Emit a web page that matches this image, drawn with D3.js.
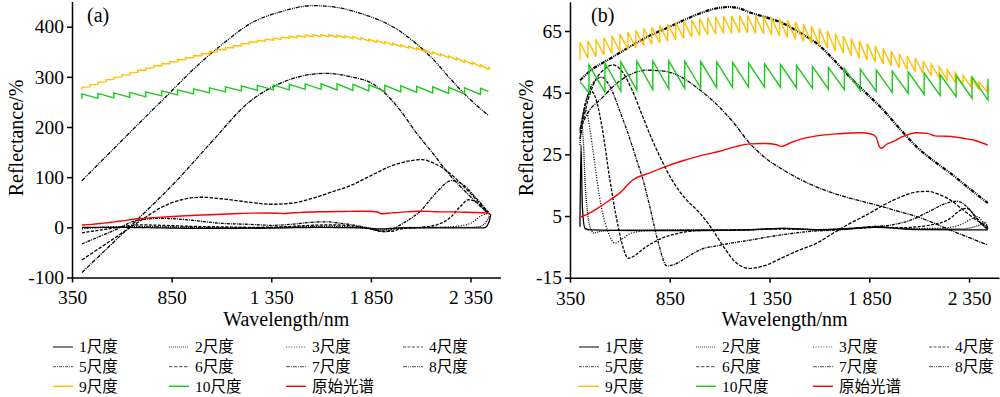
<!DOCTYPE html>
<html>
<head>
<meta charset="utf-8">
<script src="https://cdn.jsdelivr.net/npm/d3@7"></script>
<style>
  body { margin: 0; background: #fff; }
</style>
</head>
<body>
<svg id="chart" width="1000" height="397"></svg>
<script>
// ---- data ----
var seriesNames = ["1尺度", "2尺度", "3尺度", "4尺度", "5尺度", "6尺度", "7尺度", "8尺度", "9尺度", "10尺度", "原始光谱"];
var xTicks = [350, 850, 1350, 1850, 2350];
var yTicksA = [-100, 0, 100, 200, 300, 400];
var yTicksB = [-15, 5, 25, 45, 65];

// original spectrum (same in both panels)
var rawSpectrum = [[400,4.6],[450,6],[500,8],[550,10.2],[600,12.5],[665,16.7],[750,19],[836,21.2],[920,23],[1001,24.5],[1100,26],[1180,27.5],[1252,28.4],[1330,28.5],[1380,28.2],[1410,27.6],[1450,28.6],[1500,29.8],[1586,31],[1700,31.7],[1803,32],[1860,31.6],[1885,30.5],[1900,27.5],[1910,27],[1935,28.2],[1968,29.1],[2020,30.8],[2087,32],[2140,31.8],[2180,31],[2212,30.9],[2260,30.8],[2319,30.2],[2380,29.5],[2444,28]];

// panel (a), scales 1-8
var aS1 = [[400,0],[600,0],[800,-1],[1000,-2],[1200,-2],[1400,-1],[1600,0],[1800,-1],[1900,-3],[2000,-1],[2200,-1],[2420,-1],[2440,8],[2452,26]];
var aS2 = [[400,-1],[550,0],[700,1],[900,0],[1100,-1],[1300,-1],[1450,0],[1600,1],[1750,0],[1850,-2],[1900,-5],[1950,-3],[2050,-1],[2200,0],[2350,0],[2400,2],[2430,12],[2450,27]];
var aS3 = [[400,-3],[550,1],[700,2],[850,1],[1000,0],[1200,-1],[1400,0],[1550,2],[1650,3],[1750,1],[1850,-3],[1900,-7],[1950,-5],[2000,-1],[2100,0],[2200,0],[2300,3],[2360,10],[2400,22],[2430,27],[2450,27]];
var aS4 = [[400,-11],[550,-2],[690,5],[800,4],[950,2],[1100,1],[1250,0],[1400,1],[1550,4],[1650,5],[1750,3],[1850,-3],[1900,-8],[1950,-8],[2000,-3],[2100,0],[2180,5],[2250,20],[2300,42],[2340,55],[2380,50],[2420,35],[2445,27]];
var aS5 = [[400,-33],[550,-8],[690,15],[800,18],[900,16],[1000,12],[1100,8],[1240,6],[1350,4],[1450,6],[1550,10],[1620,11],[1700,8],[1800,2],[1880,-6],[1920,-9],[1960,-3],[2020,10],[2100,33],[2180,70],[2255,93],[2310,86],[2370,62],[2440,30]];
var aS6 = [[400,-65],[550,-25],[700,15],[800,40],[900,55],[1000,60],[1100,57],[1240,50],[1350,46],[1450,48],[1550,57],[1650,70],[1740,82],[1850,103],[1950,122],[2050,133],[2105,135],[2170,127],[2240,110],[2320,80],[2380,55],[2440,30]];
var aS7 = [[400,-90],[550,-33],[690,20],[875,93],[1050,170],[1240,250],[1400,288],[1520,303],[1625,307],[1750,300],[1850,288],[1905,273],[2000,232],[2075,190],[2160,148],[2240,107],[2340,65],[2440,27]];
var aS8 = [[400,93],[600,173],[800,252],[1000,330],[1120,370],[1240,405],[1400,430],[1560,442],[1700,437],[1800,426],[1910,410],[2000,390],[2075,367],[2160,336],[2240,300],[2340,258],[2440,223]];

// panel (b), scales 1-8
var bS1 = [[400,1.5],[405,28],[412,8],[425,1],[450,0.5],[700,0.3],[1000,0.3],[1250,0.5],[1418,1],[1600,0.5],[1880,1.3],[2100,0.6],[2300,0.5],[2444,0.5]];
var bS2 = [[400,28],[410,34],[418,28],[425,16.7],[435,8],[450,1.5],[470,-0.5],[500,0],[600,0.4],[800,0.4],[1000,0.5],[1200,0.5],[1418,1],[1600,0.6],[1880,1.4],[2100,0.8],[2300,0.8],[2400,2],[2430,3],[2444,1]];
var bS3 = [[400,30],[415,37],[430,39.5],[450,33],[470,24],[485,16.7],[510,7],[540,0],[576,-3.8],[610,-2.5],[660,-0.5],[750,0.3],[900,0.5],[1100,0.5],[1300,0.6],[1418,1],[1550,0.6],[1750,0.8],[1880,1.6],[2000,1],[2200,1],[2300,2],[2360,4],[2389,4.8],[2420,3],[2444,1]];
var bS4 = [[400,32],[425,41],[455,45.5],[480,43],[510,34],[550,16.7],[590,2],[620,-6],[641,-8.7],[670,-8],[720,-5.5],[800,-2.5],[900,-0.5],[1000,0.3],[1200,0.5],[1400,0.8],[1600,0.6],[1800,1],[1900,1.5],[2000,1.2],[2150,2],[2250,4],[2310,7],[2339,7.5],[2380,5],[2420,2],[2444,1]];
var bS5 = [[400,33],[430,42],[470,48.5],[510,50],[550,47],[600,39],[650,30],[690,22],[716,16.7],[750,8],[790,-3],[836,-11.2],[880,-10.5],[940,-8.2],[1000,-6],[1100,-4.5],[1252,-2.8],[1400,-1.2],[1550,0],[1700,0.5],[1850,1.5],[1950,2],[2050,3.5],[2150,6.5],[2230,9],[2289,9.8],[2340,8],[2390,4],[2444,0.5]];
var bS6 = [[400,30],[430,40],[470,48],[520,52.5],[565,54],[610,52],[660,46],[710,38],[760,30],[810,23],[861,16.7],[930,10.5],[1000,6],[1060,1],[1120,-5],[1180,-10],[1250,-12],[1330,-11],[1418,-8.4],[1500,-6],[1587,-3.8],[1670,-0.5],[1753,2.6],[1840,5.5],[1920,8.5],[2000,11],[2088,12.8],[2140,13],[2200,12],[2260,10],[2320,7],[2380,4],[2444,1.5]];
var bS7 = [[405,34],[450,39.5],[500,42.6],[584,48],[650,50.8],[734,52.3],[800,52.1],[866,51.3],[940,48.8],[1001,45.9],[1080,41.5],[1167,35.5],[1252,28.5],[1330,23.8],[1418,20],[1500,17],[1587,14.4],[1670,12.4],[1753,10.8],[1840,9.3],[1920,8],[2000,6.4],[2088,4.8],[2170,2.8],[2254,0.5],[2350,-2],[2444,-4.4]];
var bS8 = [[400,49],[450,52],[550,56],[666,60.5],[750,63.5],[836,66],[920,68.5],[1000,70.7],[1080,72.3],[1150,72.8],[1200,72.3],[1252,71],[1330,69.5],[1418,67.5],[1500,64.5],[1587,61],[1670,55.8],[1753,50],[1840,44.5],[1920,39.4],[2000,33.5],[2088,27.4],[2170,23],[2254,19],[2350,14],[2444,9.2]];

// sawtooth series (scale 9 and 10): tooth wavelength, bottom and top of each tooth
var toothWl40 = [400,440,480,520,560,600,640,680,720,760,800,840,880,920,960,1000,1040,1080,1120,1160,1200,1240,1280,1320,1360,1400,1440,1480,1520,1560,1600,1640,1680,1720,1760,1800,1840,1880,1920,1960,2000,2040,2080,2120,2160,2200,2240,2280,2320,2360,2400,2440];

var yellowATop = [279,284,289,294,299,304,308,313,317,322,326,330,334,338,342,346,350,354,358,362,366,370,373,375,377,379,381,382,383,384,384,384,383,382,380,378,375,373,370,367,364,361,358,354,350,346,342,338,333,329,324,319];
var yellowABot = [275,280,285,290,295,300,304,309,313,318,322,326,330,334,338,342,346,350,354,358,362,366,369,371,373,375,377,378,379,380,380,380,379,378,376,374,371,369,366,363,360,357,354,350,346,342,338,334,329,325,320,315];
var yellowAEnd = [2450, 316];

var greenAWl = [400,480,560,640,720,800,880,960,1040,1120,1200,1280,1360,1440,1520,1600,1680,1760,1840,1920,2000,2080,2160,2240,2320,2400];
var greenATop = [266,267,268,269,270,272,274,276,278,280,282,283,284,285,286,286,286,285,284,283,282,281,280,279,278,277];
var greenABot = [256,257,258,259,260,262,264,266,268,270,272,273,274,274,275,275,274,273,272,271,270,269,268,267,266,265];
var greenAEnd = [2440, 271];

var yellowBTop = [61.3,61.8,62.3,62.8,63.4,64.0,64.6,65.2,65.8,66.3,66.8,67.3,67.8,68.2,68.6,69.0,69.3,69.6,69.8,69.9,70.0,70.0,69.9,69.7,69.4,69.0,68.5,67.9,67.3,66.6,65.8,65.0,64.2,63.4,62.6,61.8,60.9,60.1,59.3,58.5,57.7,56.9,56.2,55.2,54.3,53.4,52.5,51.6,50.6,49.6,48.5,47.5];
var yellowBBot = [55.7,56.2,56.7,57.2,57.8,58.4,59.0,59.6,60.2,60.7,61.2,61.7,62.2,62.6,63.0,63.4,63.7,64.0,64.2,64.3,64.4,64.4,64.3,64.1,63.8,63.4,62.9,62.3,61.7,61.0,60.2,59.4,58.6,57.8,57.0,56.2,55.5,54.9,54.3,53.7,53.1,52.5,51.8,51.2,50.5,49.8,49.1,48.4,47.6,46.8,46.1,45.3];
var yellowBEnd = [2450, 45.6];

var greenBWl = [445,525,605,685,765,845,925,1005,1085,1165,1245,1325,1405,1485,1565,1645,1725,1805,1885,1965,2045,2125,2205,2285,2365,2445];
var greenBTop = [54.0,54.6,55.0,55.2,55.3,55.3,55.2,55.1,55.0,54.8,54.6,54.4,54.1,53.8,53.5,53.2,52.9,52.6,52.3,52.0,51.7,51.3,50.9,50.5,50.1,49.6];
var greenBBot = [45.0,45.2,45.5,45.8,46.0,46.2,46.4,46.5,46.6,46.7,46.8,46.8,46.7,46.6,46.4,46.2,46.0,45.7,45.4,45.1,44.8,44.5,44.1,43.7,43.2,42.6];
var greenBStart = [400, 48.6];

// ---- styles ----
var FONT = "Liberation Serif, Noto Sans CJK SC, serif";
var blackDash = ["none", "1,1", "1,1.6", "3,1.5", "3,1,1,1", "3.5,1.5", "4,1,1,1", "4,1,1,1,1,1"];
var yellow = "#ffc000", green = "#1ec81e", red = "#ff0000";

function teeth(wl, bot, top, start, end) {
  var pts = [];
  if (start) pts.push(start);
  wl.forEach(function(w, i) {
    pts.push([w, bot[i]]);
    pts.push([w, top[i]]);
  });
  if (end) pts.push(end);
  return pts;
}

function tickFmt(d) {
  if (d >= 1000) return Math.floor(d / 1000) + " " + String(d % 1000).padStart(3, "0");
  return String(d);
}

var svg = d3.select("#chart").attr("font-family", FONT);
svg.append("rect").attr("width", 1000).attr("height", 397).attr("fill", "#fff");

function drawPanel(p) {
  var g = svg.append("g");
  var x = d3.scaleLinear().domain([350, 2500]).range([p.left, p.right]);
  var y = d3.scaleLinear().domain(p.yDomain).range([p.bottom, p.top]);

  var smooth = d3.line().x(function(d) { return x(d[0]); }).y(function(d) { return y(d[1]); }).curve(d3.curveMonotoneX);
  var straight = d3.line().x(function(d) { return x(d[0]); }).y(function(d) { return y(d[1]); });

  // black curves, scale 1..8
  p.scales.forEach(function(s, i) {
    g.append("path")
      .attr("d", smooth(s))
      .attr("fill", "none")
      .attr("stroke", "#000")
      .attr("stroke-width", i == 7 && p.thickTop ? 2.2 : 1.3)
      .attr("stroke-dasharray", blackDash[i])
      .attr("stroke-linejoin", "round");
  });

  g.append("path").attr("d", straight(p.yellow)).attr("fill", "none")
    .attr("stroke", yellow).attr("stroke-width", 1.4);
  g.append("path").attr("d", straight(p.green)).attr("fill", "none")
    .attr("stroke", green).attr("stroke-width", 1.4);
  g.append("path").attr("d", smooth(rawSpectrum)).attr("fill", "none")
    .attr("stroke", red).attr("stroke-width", 1.4);

  // axes
  var xAxis = g.append("g")
    .attr("transform", "translate(0," + p.bottom + ")")
    .call(d3.axisBottom(x).tickValues(xTicks).tickFormat(tickFmt).tickSizeInner(5).tickSizeOuter(0).tickPadding(8));
  var yAxis = g.append("g")
    .attr("transform", "translate(" + p.left + ",0)")
    .call(d3.axisLeft(y).tickValues(p.yTicks).tickFormat(function(d) { return String(d); }).tickSizeInner(5).tickSizeOuter(0).tickPadding(3));
  [xAxis, yAxis].forEach(function(a) {
    a.attr("font-family", FONT).attr("font-size", 19.5);
    a.selectAll("path, line").attr("stroke", "#000").attr("stroke-width", 1.5);
    a.selectAll("text").attr("fill", "#000");
  });

  g.append("text")
    .attr("x", (p.left + p.right) / 2)
    .attr("y", 326)
    .attr("text-anchor", "middle")
    .attr("font-size", 20)
    .text("Wavelength/nm");

  g.append("text")
    .attr("transform", "translate(" + p.titleX + ",138) rotate(-90)")
    .attr("text-anchor", "middle")
    .attr("font-size", 20)
    .text("Reflectance/%");

  g.append("text")
    .attr("x", p.labelX)
    .attr("y", 22)
    .attr("font-size", 20)
    .text(p.label);

  // legend
  var rows = [347, 366.7, 386.3];
  seriesNames.forEach(function(name, i) {
    var col = i % 4, row = Math.floor(i / 4);
    var lx = p.legendX[col], ly = rows[row];
    var stroke = i < 8 ? "#000" : (i == 8 ? yellow : (i == 9 ? green : red));
    g.append("line")
      .attr("x1", lx).attr("x2", lx + 20)
      .attr("y1", ly).attr("y2", ly)
      .attr("stroke", stroke)
      .attr("stroke-width", i < 8 ? 1 : 1.4)
      .attr("stroke-opacity", (i > 0 && i < 8) ? 0.7 : 1)
      .attr("stroke-dasharray", i < 8 ? blackDash[i] : "none");
    g.append("text")
      .attr("x", lx + 26)
      .attr("y", ly)
      .attr("dy", "0.35em")
      .attr("font-size", 15.5)
      .text(name);
  });
}

drawPanel({
  left: 72, right: 500.4, top: 1.6, bottom: 277.5,
  yDomain: [-100, 450], yTicks: yTicksA,
  scales: [aS1, aS2, aS3, aS4, aS5, aS6, aS7, aS8],
  yellow: teeth(toothWl40, yellowABot, yellowATop, null, yellowAEnd),
  green: teeth(greenAWl, greenABot, greenATop, null, greenAEnd),
  label: "(a)", labelX: 87, titleX: 23,
  legendX: [53, 169, 286, 403],
  thickTop: false
});

drawPanel({
  left: 570, right: 999, top: 1.7, bottom: 277.7,
  yDomain: [-15, 74.5], yTicks: yTicksB,
  scales: [bS1, bS2, bS3, bS4, bS5, bS6, bS7, bS8],
  yellow: teeth(toothWl40, yellowBBot, yellowBTop, null, yellowBEnd),
  green: teeth(greenBWl, greenBBot, greenBTop, greenBStart, null),
  label: "(b)", labelX: 591, titleX: 533,
  legendX: [579, 696, 813, 929],
  thickTop: true
});
</script>
</body>
</html>
